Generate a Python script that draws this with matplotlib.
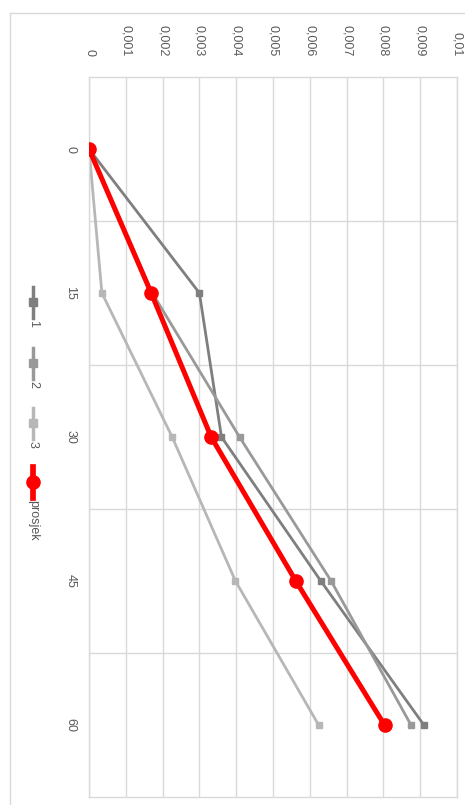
import matplotlib
matplotlib.use('Agg')
import matplotlib.pyplot as plt
from matplotlib.lines import Line2D

minutes = ['0', '15', '30', '45', '60']
s1 = [0.0, 0.00300, 0.00360, 0.00630, 0.00910]
s2 = [0.0, 0.00172, 0.00409, 0.00658, 0.00875]
s3 = [0.0, 0.00035, 0.00226, 0.00398, 0.00624]
prosjek = [0.0, 0.00169, 0.00332, 0.00562, 0.00803]
value_ticks = [i / 1000 for i in range(11)]
value_labels = ['0', '0,001', '0,002', '0,003', '0,004', '0,005',
                '0,006', '0,007', '0,008', '0,009', '0,01']

series = [
    ('1', s1, '#7f7f7f', 2.0, 's', 4.5),
    ('2', s2, '#999999', 2.0, 's', 4.5),
    ('3', s3, '#b7b7b7', 2.0, 's', 4.5),
    ('prosjek', prosjek, '#ff0000', 3.6, 'o', 9.5),
]

W, H = 465, 805
plt.rcParams['font.family'] = ['Liberation Sans', 'DejaVu Sans']
fig = plt.figure(figsize=(W / 100, H / 100), dpi=100)

grid_c = '#d9d9d9'
text_c = '#595959'

# plot area in pixels: x 89..457, y 77..797
ax = fig.add_axes([89 / W, 1 - 797 / H, (457 - 89) / W, (797 - 77) / H])
pos = list(range(len(minutes)))
for name, vals, col, lw, mk, ms in series:
    ax.plot(vals, pos, color=col, lw=lw, marker=mk, ms=ms,
            solid_capstyle='round', zorder=3 if name == 'prosjek' else 2)

ax.set_xlim(0, 0.01)
ax.set_ylim(len(minutes) - 0.5, -0.5)
ax.xaxis.tick_top()
ax.set_xticks(value_ticks)
ax.set_xticklabels(value_labels)
ax.set_yticks(pos)
ax.set_yticklabels(minutes)
ax.set_yticks([p + 0.5 for p in pos[:-1]], minor=True)
ax.tick_params(axis='x', which='both', length=0, pad=15, labelsize=9,
               labelcolor=text_c, labelrotation=-90)
ax.tick_params(axis='y', which='both', length=0, pad=9, labelsize=9,
               labelcolor=text_c, labelrotation=-90)
for lab in ax.get_yticklabels():
    lab.set_va('center')
ax.grid(axis='x', which='major', color=grid_c, lw=1)
ax.grid(axis='y', which='minor', color=grid_c, lw=1)
for sp in ax.spines.values():
    sp.set_color(grid_c)
    sp.set_linewidth(1)

# chart frame
fig.add_artist(Line2D([10 / W, 10 / W], [0, 1 - 13 / H], color=grid_c, lw=1))
fig.add_artist(Line2D([10 / W, 1], [1 - 13 / H, 1 - 13 / H], color=grid_c, lw=1))

# legend, drawn rotated like the rest of the chart
leg_x = 33
leg_items = [(287, 318), (348, 379), (408, 439), (467, 498)]
for (y0, y1), (name, vals, col, lw, mk, ms) in zip(leg_items, series):
    fig.add_artist(Line2D([leg_x / W, leg_x / W], [1 - y0 / H, 1 - y1 / H],
                          color=col, lw=lw + 0.5))
    fig.add_artist(Line2D([leg_x / W], [1 - (y0 + y1) / 2 / H], color=col,
                          marker=mk, ms=ms + (1 if mk == 's' else 0), lw=0))
    fig.text(leg_x / W, 1 - (y1 + 2) / H, name, rotation=-90, ha='center',
             va='top', fontsize=9, color=text_c)

fig.savefig('out.png', dpi=100)
